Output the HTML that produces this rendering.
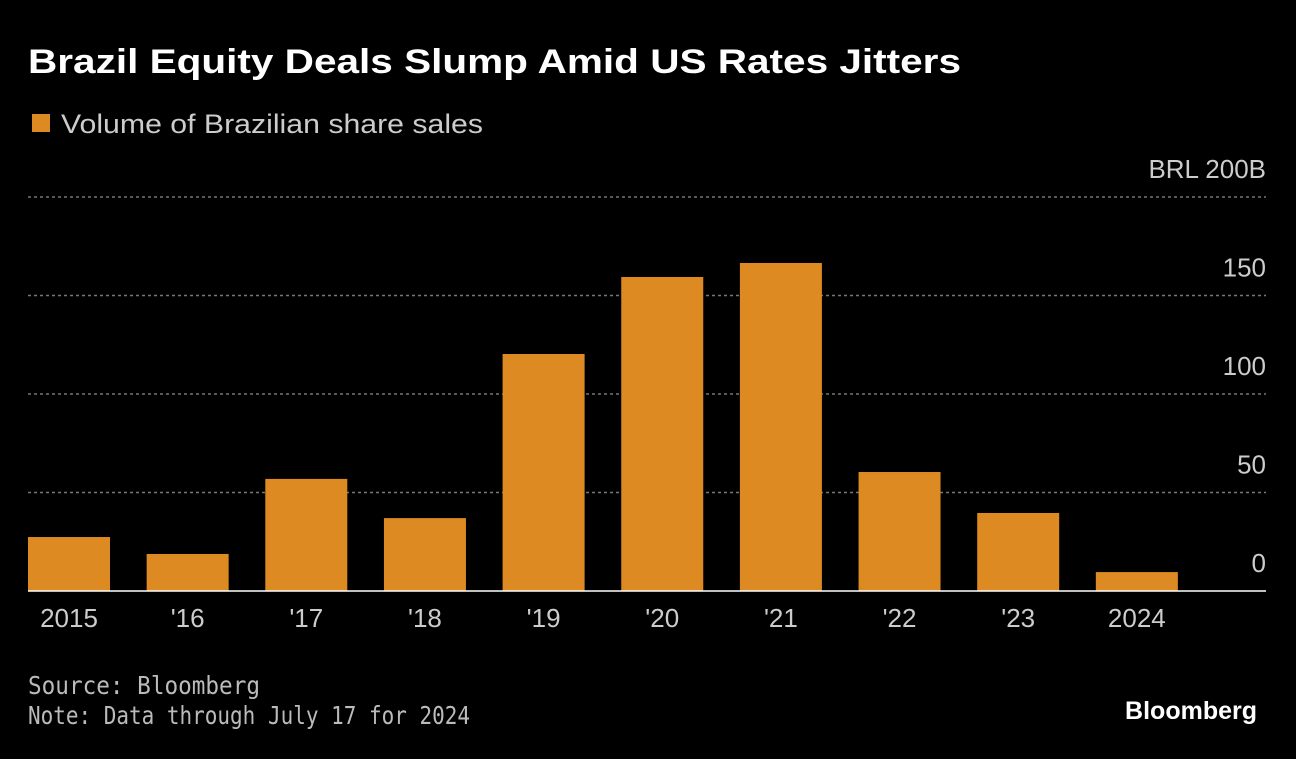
<!DOCTYPE html>
<html><head><meta charset="utf-8"><style>
body{margin:0;background:#000;width:1296px;height:754px;overflow:hidden;font-family:"Liberation Sans","DejaVu Sans",sans-serif;color:#fff}
</style></head><body>
<svg width="1296" height="754" id="svg">
<text x="28" y="73" font-size="34" font-weight="bold" fill="#fff" textLength="933" lengthAdjust="spacingAndGlyphs">Brazil Equity Deals Slump Amid US Rates Jitters</text>
<rect x="32" y="114" width="18" height="18" fill="#de8a22"/>
<text x="61" y="133" font-size="27" fill="#ccc" textLength="422" lengthAdjust="spacingAndGlyphs">Volume of Brazilian share sales</text>
<g id="grid"></g><g id="bars"></g><g id="xl"></g>
<line x1="28" x2="1266" y1="591" y2="591" stroke="#fff" stroke-width="1.5"/>
<text x="28" y="694" font-size="25" fill="#bbb" textLength="232" lengthAdjust="spacingAndGlyphs" font-family="DejaVu Sans Mono, Liberation Mono, monospace">Source: Bloomberg</text>
<text x="28" y="724" font-size="25" fill="#bbb" textLength="442" lengthAdjust="spacingAndGlyphs" font-family="DejaVu Sans Mono, Liberation Mono, monospace">Note: Data through July 17 for 2024</text>
<text x="1257" y="719" font-size="25" font-weight="bold" fill="#fff" text-anchor="end">Bloomberg</text>
</svg>
<script>
const categories=["2015","'16","'17","'18","'19","'20","'21","'22","'23","2024"];
const values=[27.4,18.8,56.9,37,120.3,159.4,166.5,60.4,39.6,9.6];
const ticks=[0,50,100,150,200];
const tickLabels=["0","50","100","150","BRL 200B"];
const NS="http://www.w3.org/2000/svg";
const y=v=>591-v*1.97;
const x=i=>69+i*118.65;
function mk(t,a,p){const e=document.createElementNS(NS,t);for(const k in a)e.setAttribute(k,a[k]);p.appendChild(e);return e;}
const g=document.getElementById('grid');
ticks.forEach((t,i)=>{
 if(t>0){const l=mk('line',{x1:28,x2:1266,y1:y(t),y2:y(t),stroke:'#777','stroke-width':1.5,'stroke-dasharray':'3,3'},g);
 
 }
 const tx=mk('text',{x:1266,y:y(t)-19,'font-size':26,fill:'#ccc','text-anchor':'end'},g);
 tx.textContent=tickLabels[i];
 
 
});
const b=document.getElementById('bars'),xl=document.getElementById('xl');
values.forEach((v,i)=>{
 const r=mk('rect',{x:x(i)-41,y:y(v),width:82,height:591-y(v),fill:'#de8a22'},b);
 
 
 const t=mk('text',{x:x(i),y:627,'font-size':26,fill:'#ccc','text-anchor':'middle'},xl);
 t.textContent=categories[i];
 
 
});
</script>
</body></html>
